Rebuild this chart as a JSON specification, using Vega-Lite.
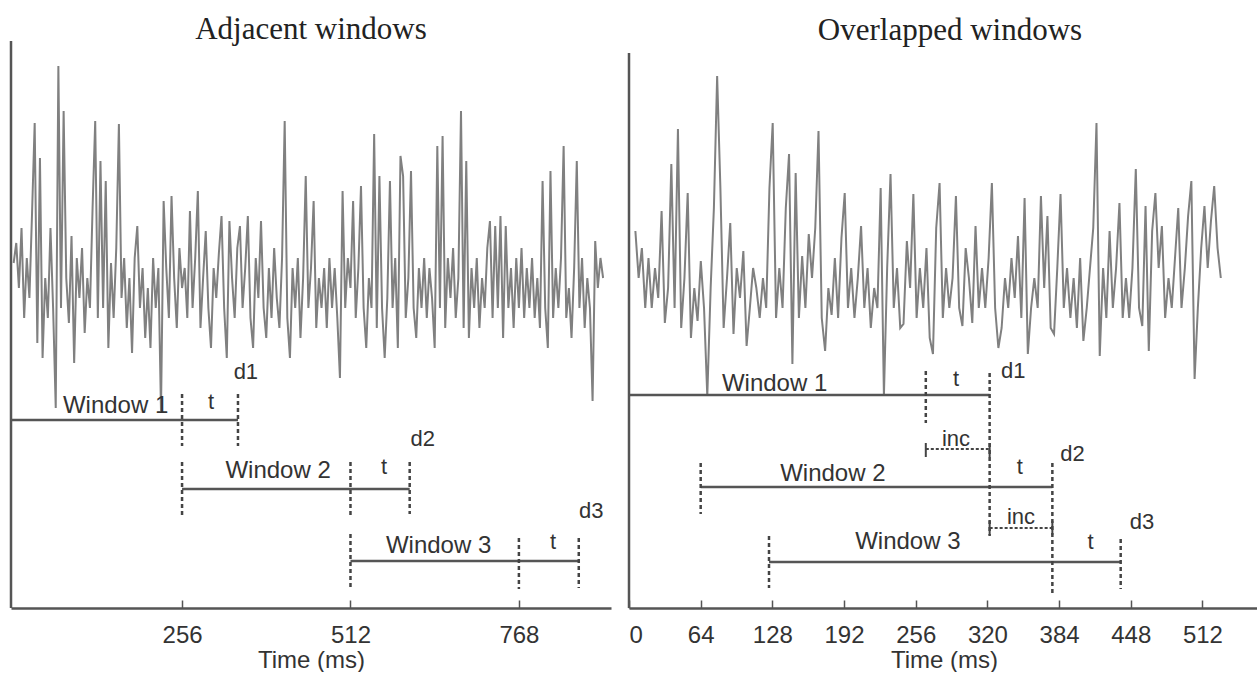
{
  "$schema": "https://vega.github.io/schema/vega-lite/v6.json",
  "background": "white",
  "padding": {"left": 9, "top": 13, "right": 0, "bottom": 0},
  "spacing": 16,
  "config": {"view": {"stroke": null}, "axis": {"grid": false}, "font": "Liberation Sans"},
  "datasets": {
    "sigA": [
      {"x":0,"y":345},{"x":4,"y":365},{"x":8,"y":320},{"x":12,"y":380},{"x":16,"y":290},{"x":20,"y":350},{"x":24,"y":310},{"x":28,"y":395},{"x":32,"y":485},{"x":36,"y":265},
      {"x":40,"y":450},{"x":44,"y":250},{"x":48,"y":330},{"x":52,"y":290},{"x":56,"y":380},{"x":60,"y":300},{"x":64,"y":200},{"x":68,"y":542},{"x":72,"y":300},{"x":76,"y":497},
      {"x":80,"y":330},{"x":84,"y":285},{"x":88,"y":372},{"x":92,"y":245},{"x":96,"y":350},{"x":100,"y":310},{"x":104,"y":360},{"x":108,"y":275},{"x":112,"y":330},{"x":116,"y":300},
      {"x":120,"y":400},{"x":124,"y":487},{"x":128,"y":290},{"x":132,"y":447},{"x":136,"y":300},{"x":140,"y":427},{"x":144,"y":260},{"x":148,"y":345},{"x":152,"y":290},{"x":156,"y":360},
      {"x":160,"y":484},{"x":164,"y":310},{"x":168,"y":350},{"x":172,"y":280},{"x":176,"y":330},{"x":180,"y":255},{"x":184,"y":350},{"x":188,"y":382},{"x":192,"y":300},{"x":196,"y":340},
      {"x":200,"y":270},{"x":204,"y":320},{"x":208,"y":260},{"x":212,"y":350},{"x":216,"y":300},{"x":220,"y":340},{"x":224,"y":197},{"x":228,"y":407},{"x":232,"y":340},{"x":236,"y":290},
      {"x":240,"y":412},{"x":244,"y":330},{"x":248,"y":280},{"x":252,"y":360},{"x":256,"y":320},{"x":260,"y":340},{"x":264,"y":290},{"x":268,"y":397},{"x":272,"y":300},{"x":276,"y":350},
      {"x":280,"y":417},{"x":284,"y":280},{"x":288,"y":330},{"x":292,"y":377},{"x":296,"y":300},{"x":300,"y":260},{"x":304,"y":340},{"x":308,"y":310},{"x":312,"y":355},{"x":316,"y":392},
      {"x":320,"y":300},{"x":324,"y":250},{"x":328,"y":387},{"x":332,"y":330},{"x":336,"y":290},{"x":340,"y":360},{"x":344,"y":382},{"x":348,"y":300},{"x":352,"y":340},{"x":356,"y":392},
      {"x":360,"y":290},{"x":364,"y":260},{"x":368,"y":350},{"x":372,"y":310},{"x":376,"y":387},{"x":380,"y":300},{"x":384,"y":270},{"x":388,"y":340},{"x":392,"y":290},{"x":396,"y":360},
      {"x":400,"y":310},{"x":404,"y":280},{"x":408,"y":350},{"x":412,"y":487},{"x":416,"y":290},{"x":420,"y":250},{"x":424,"y":340},{"x":428,"y":300},{"x":432,"y":350},{"x":436,"y":270},
      {"x":440,"y":330},{"x":444,"y":432},{"x":448,"y":300},{"x":452,"y":340},{"x":456,"y":407},{"x":460,"y":280},{"x":464,"y":330},{"x":468,"y":300},{"x":472,"y":340},{"x":476,"y":280},
      {"x":480,"y":350},{"x":484,"y":300},{"x":488,"y":340},{"x":492,"y":290},{"x":496,"y":230},{"x":500,"y":417},{"x":504,"y":300},{"x":508,"y":350},{"x":512,"y":320},{"x":516,"y":407},
      {"x":520,"y":290},{"x":524,"y":340},{"x":528,"y":422},{"x":532,"y":300},{"x":536,"y":260},{"x":540,"y":330},{"x":544,"y":300},{"x":548,"y":474},{"x":552,"y":280},{"x":556,"y":432},
      {"x":560,"y":300},{"x":564,"y":250},{"x":568,"y":310},{"x":572,"y":427},{"x":576,"y":300},{"x":580,"y":350},{"x":584,"y":260},{"x":588,"y":452},{"x":592,"y":432},{"x":596,"y":290},
      {"x":600,"y":330},{"x":604,"y":437},{"x":608,"y":300},{"x":612,"y":270},{"x":616,"y":340},{"x":620,"y":300},{"x":624,"y":350},{"x":628,"y":290},{"x":632,"y":340},{"x":636,"y":310},
      {"x":640,"y":260},{"x":644,"y":462},{"x":648,"y":300},{"x":652,"y":472},{"x":656,"y":280},{"x":660,"y":350},{"x":664,"y":310},{"x":668,"y":360},{"x":672,"y":290},{"x":676,"y":330},
      {"x":680,"y":497},{"x":684,"y":280},{"x":688,"y":447},{"x":692,"y":270},{"x":696,"y":340},{"x":700,"y":300},{"x":704,"y":350},{"x":708,"y":280},{"x":712,"y":330},{"x":716,"y":300},
      {"x":720,"y":360},{"x":724,"y":387},{"x":728,"y":290},{"x":732,"y":382},{"x":736,"y":300},{"x":740,"y":392},{"x":744,"y":270},{"x":748,"y":382},{"x":752,"y":300},{"x":756,"y":340},
      {"x":760,"y":280},{"x":764,"y":350},{"x":768,"y":300},{"x":772,"y":360},{"x":776,"y":290},{"x":780,"y":340},{"x":784,"y":300},{"x":788,"y":350},{"x":792,"y":290},{"x":796,"y":330},
      {"x":800,"y":280},{"x":804,"y":427},{"x":808,"y":300},{"x":812,"y":260},{"x":816,"y":437},{"x":820,"y":290},{"x":824,"y":340},{"x":828,"y":300},{"x":832,"y":350},{"x":836,"y":462},
      {"x":840,"y":290},{"x":844,"y":320},{"x":848,"y":270},{"x":852,"y":340},{"x":856,"y":447},{"x":860,"y":300},{"x":864,"y":350},{"x":868,"y":280},{"x":872,"y":330},{"x":876,"y":300},
      {"x":880,"y":207},{"x":884,"y":367},{"x":888,"y":320},{"x":892,"y":350},{"x":896,"y":330}
    ],
    "sigB": [
      {"x":5.7,"y":377},{"x":8.6,"y":330},{"x":11.5,"y":360},{"x":14.5,"y":300},{"x":17.4,"y":350},{"x":20.3,"y":300},{"x":23.2,"y":340},{"x":26.1,"y":310},{"x":29.1,"y":397},{"x":32.0,"y":285},
      {"x":34.9,"y":320},{"x":37.8,"y":444},{"x":40.7,"y":300},{"x":43.7,"y":479},{"x":46.6,"y":280},{"x":49.5,"y":330},{"x":52.4,"y":415},{"x":55.3,"y":270},{"x":58.3,"y":320},{"x":61.2,"y":287},
      {"x":64.1,"y":347},{"x":67.0,"y":300},{"x":69.9,"y":212},{"x":72.9,"y":320},{"x":75.8,"y":400},{"x":78.7,"y":532},{"x":81.6,"y":420},{"x":84.5,"y":280},{"x":87.5,"y":330},{"x":90.4,"y":385},
      {"x":93.3,"y":274},{"x":96.2,"y":340},{"x":99.1,"y":310},{"x":102.1,"y":357},{"x":105.0,"y":262},{"x":107.9,"y":300},{"x":110.8,"y":340},{"x":113.7,"y":320},{"x":116.7,"y":290},{"x":119.6,"y":330},
      {"x":122.5,"y":300},{"x":125.4,"y":420},{"x":128.3,"y":485},{"x":131.3,"y":290},{"x":134.2,"y":340},{"x":137.1,"y":300},{"x":140.0,"y":400},{"x":142.9,"y":454},{"x":145.9,"y":244},{"x":148.8,"y":435},
      {"x":151.7,"y":290},{"x":154.6,"y":352},{"x":157.5,"y":300},{"x":160.5,"y":374},{"x":163.4,"y":330},{"x":166.3,"y":380},{"x":169.2,"y":477},{"x":172.1,"y":290},{"x":175.1,"y":257},{"x":178.0,"y":320},
      {"x":180.9,"y":293},{"x":183.8,"y":350},{"x":186.7,"y":290},{"x":189.7,"y":370},{"x":192.6,"y":415},{"x":195.5,"y":300},{"x":198.4,"y":340},{"x":201.3,"y":290},{"x":204.3,"y":330},{"x":207.2,"y":382},
      {"x":210.1,"y":300},{"x":213.0,"y":340},{"x":215.9,"y":280},{"x":218.9,"y":320},{"x":221.8,"y":300},{"x":224.7,"y":420},{"x":227.6,"y":212},{"x":230.5,"y":340},{"x":233.5,"y":434},{"x":236.4,"y":300},
      {"x":239.3,"y":340},{"x":242.2,"y":280},{"x":245.1,"y":284},{"x":248.1,"y":367},{"x":251.0,"y":320},{"x":253.9,"y":414},{"x":256.8,"y":290},{"x":259.7,"y":340},{"x":262.7,"y":300},{"x":265.6,"y":360},
      {"x":268.5,"y":270},{"x":271.4,"y":254},{"x":274.3,"y":380},{"x":277.3,"y":425},{"x":280.2,"y":290},{"x":283.1,"y":340},{"x":286.0,"y":300},{"x":288.9,"y":330},{"x":291.9,"y":412},{"x":294.8,"y":300},
      {"x":297.7,"y":282},{"x":300.6,"y":360},{"x":303.5,"y":330},{"x":306.5,"y":285},{"x":309.4,"y":382},{"x":312.3,"y":300},{"x":315.2,"y":340},{"x":318.1,"y":300},{"x":321.1,"y":350},{"x":324.0,"y":425},
      {"x":326.9,"y":300},{"x":329.8,"y":260},{"x":332.7,"y":280},{"x":335.7,"y":330},{"x":338.6,"y":300},{"x":341.5,"y":350},{"x":344.4,"y":310},{"x":347.3,"y":372},{"x":350.3,"y":290},{"x":353.2,"y":410},
      {"x":356.1,"y":254},{"x":359.0,"y":300},{"x":361.9,"y":330},{"x":364.9,"y":300},{"x":367.8,"y":412},{"x":370.7,"y":320},{"x":373.6,"y":392},{"x":376.5,"y":280},{"x":379.5,"y":274},{"x":382.4,"y":340},
      {"x":385.3,"y":414},{"x":388.2,"y":300},{"x":391.1,"y":340},{"x":394.1,"y":290},{"x":397.0,"y":330},{"x":399.9,"y":280},{"x":402.8,"y":350},{"x":405.7,"y":267},{"x":408.7,"y":300},{"x":411.6,"y":340},
      {"x":414.5,"y":380},{"x":417.4,"y":485},{"x":420.3,"y":252},{"x":423.3,"y":340},{"x":426.2,"y":290},{"x":429.1,"y":377},{"x":432.0,"y":300},{"x":434.9,"y":340},{"x":437.9,"y":405},{"x":440.8,"y":290},
      {"x":443.7,"y":330},{"x":446.6,"y":290},{"x":449.5,"y":340},{"x":452.5,"y":439},{"x":455.4,"y":300},{"x":458.3,"y":282},{"x":461.2,"y":402},{"x":464.1,"y":257},{"x":467.1,"y":377},{"x":470.0,"y":415},
      {"x":472.9,"y":340},{"x":475.8,"y":382},{"x":478.7,"y":290},{"x":481.7,"y":330},{"x":484.6,"y":300},{"x":487.5,"y":350},{"x":490.4,"y":400},{"x":493.3,"y":300},{"x":496.3,"y":340},{"x":499.2,"y":392},
      {"x":502.1,"y":427},{"x":505.0,"y":229},{"x":507.9,"y":300},{"x":510.9,"y":360},{"x":513.8,"y":402},{"x":516.7,"y":340},{"x":519.6,"y":387},{"x":522.5,"y":422},{"x":525.5,"y":360},{"x":528.4,"y":330}
    ],
    "axA": [{"x": -4, "y": 0, "y2": 567}],
    "axB": [{"x": 0, "y": 0, "y2": 555}],
    "hA": [
      {"x": -4, "x2": 341, "y": 188},
      {"x": 256, "x2": 602, "y": 119},
      {"x": 512, "x2": 859, "y": 47}
    ],
    "vA": [
      {"x": 256, "y": 214, "y2": 162},
      {"x": 341, "y": 214, "y2": 162},
      {"x": 256, "y": 146, "y2": 92},
      {"x": 512, "y": 146, "y2": 92},
      {"x": 602, "y": 146, "y2": 94},
      {"x": 512, "y": 74, "y2": 20},
      {"x": 768, "y": 70, "y2": 19},
      {"x": 859, "y": 70, "y2": 20}
    ],
    "wA": [
      {"x": 155, "y": 195, "label": "Window 1"},
      {"x": 402, "y": 130, "label": "Window 2"},
      {"x": 646, "y": 55, "label": "Window 3"}
    ],
    "sA": [
      {"x": 300, "y": 199, "label": "t"},
      {"x": 353, "y": 229, "label": "d1"},
      {"x": 563, "y": 134, "label": "t"},
      {"x": 622, "y": 162, "label": "d2"},
      {"x": 820, "y": 59, "label": "t"},
      {"x": 878, "y": 90, "label": "d3"}
    ],
    "hB": [
      {"x": 0, "x2": 322, "y": 213},
      {"x": 64, "x2": 378, "y": 121},
      {"x": 125, "x2": 439, "y": 46}
    ],
    "vB": [
      {"x": 265, "y": 237, "y2": 185},
      {"x": 322, "y": 235, "y2": 72},
      {"x": 64, "y": 145, "y2": 94},
      {"x": 378, "y": 145, "y2": 15},
      {"x": 125, "y": 72, "y2": 20},
      {"x": 439, "y": 69, "y2": 19}
    ],
    "iB": [
      {"x": 265, "x2": 322, "y": 159},
      {"x": 322, "x2": 378, "y": 80}
    ],
    "eB": [
      {"x": 265, "y": 165, "y2": 151},
      {"x": 322, "y": 165, "y2": 151},
      {"x": 322, "y": 87, "y2": 73},
      {"x": 378, "y": 87, "y2": 73}
    ],
    "wB": [
      {"x": 130, "y": 217, "label": "Window 1"},
      {"x": 182, "y": 127, "label": "Window 2"},
      {"x": 249, "y": 59, "label": "Window 3"}
    ],
    "sB": [
      {"x": 292, "y": 222, "label": "t"},
      {"x": 343, "y": 230, "label": "d1"},
      {"x": 292, "y": 162, "label": "inc"},
      {"x": 349, "y": 134, "label": "t"},
      {"x": 396, "y": 147, "label": "d2"},
      {"x": 350, "y": 84, "label": "inc"},
      {"x": 412, "y": 59, "label": "t"},
      {"x": 458, "y": 79, "label": "d3"}
    ]
  },
  "hconcat": [
    {
      "width": 600,
      "height": 567,
      "title": {"text": "Adjacent windows", "font": "Liberation Serif", "fontSize": 31, "fontWeight": "normal", "color": "#222", "anchor": "middle", "baseline": "alphabetic", "offset": -30},
      "layer": [
        {
          "data": {"name": "sigA"},
          "mark": {"type": "line", "color": "#808080", "strokeWidth": 2},
          "encoding": {
            "x": {"field": "x", "type": "quantitative", "scale": {"domain": [-4, 908], "nice": false, "zero": false},
              "axis": {"values": [256, 512, 768], "title": "Time (ms)", "domainColor": "#555", "domainWidth": 2.5, "tickColor": "#555", "tickWidth": 1.5, "tickSize": -8, "labelPadding": 23, "labelFontSize": 24, "labelColor": "#333", "labelFont": "Liberation Sans", "labelFlush": false, "titleFont": "Liberation Sans", "titleFontSize": 24, "titleFontWeight": "normal", "titleColor": "#333", "titlePadding": 1}},
            "y": {"field": "y", "type": "quantitative", "scale": {"domain": [0, 567], "nice": false}, "axis": null}
          }
        },
        {
          "data": {"name": "axA"},
          "mark": {"type": "rule", "color": "#555", "strokeWidth": 2.5},
          "encoding": {"x": {"field": "x", "type": "quantitative"}, "y": {"field": "y", "type": "quantitative"}, "y2": {"field": "y2"}}
        },
        {
          "data": {"name": "hA"},
          "mark": {"type": "rule", "color": "#555", "strokeWidth": 2.5},
          "encoding": {"x": {"field": "x", "type": "quantitative"}, "x2": {"field": "x2"}, "y": {"field": "y", "type": "quantitative"}}
        },
        {
          "data": {"name": "vA"},
          "mark": {"type": "rule", "color": "#444", "strokeWidth": 2.5, "strokeDash": [4, 3]},
          "encoding": {"x": {"field": "x", "type": "quantitative"}, "y": {"field": "y", "type": "quantitative"}, "y2": {"field": "y2"}}
        },
        {
          "data": {"name": "wA"},
          "mark": {"type": "text", "fontSize": 24, "color": "#333", "align": "center", "baseline": "alphabetic", "font": "Liberation Sans"},
          "encoding": {"x": {"field": "x", "type": "quantitative"}, "y": {"field": "y", "type": "quantitative"}, "text": {"field": "label"}}
        },
        {
          "data": {"name": "sA"},
          "mark": {"type": "text", "fontSize": 22, "color": "#333", "align": "center", "baseline": "alphabetic", "font": "Liberation Sans"},
          "encoding": {"x": {"field": "x", "type": "quantitative"}, "y": {"field": "y", "type": "quantitative"}, "text": {"field": "label"}}
        }
      ]
    },
    {
      "width": 630,
      "height": 567,
      "title": {"text": "Overlapped windows", "font": "Liberation Serif", "fontSize": 31, "fontWeight": "normal", "color": "#222", "anchor": "middle", "baseline": "alphabetic", "offset": -30, "dx": 6},
      "layer": [
        {
          "data": {"name": "sigB"},
          "mark": {"type": "line", "color": "#808080", "strokeWidth": 2},
          "encoding": {
            "x": {"field": "x", "type": "quantitative", "scale": {"domain": [0, 562.5], "nice": false, "zero": false},
              "axis": {"values": [0, 64, 128, 192, 256, 320, 384, 448, 512], "title": "Time (ms)", "domainColor": "#555", "domainWidth": 2.5, "tickColor": "#555", "tickWidth": 1.5, "tickSize": -8, "labelPadding": 23, "labelFontSize": 24, "labelColor": "#333", "labelFont": "Liberation Sans", "labelFlush": true, "titleFont": "Liberation Sans", "titleFontSize": 24, "titleFontWeight": "normal", "titleColor": "#333", "titlePadding": 1}},
            "y": {"field": "y", "type": "quantitative", "scale": {"domain": [0, 567], "nice": false}, "axis": null}
          }
        },
        {
          "data": {"name": "axB"},
          "mark": {"type": "rule", "color": "#555", "strokeWidth": 2.5},
          "encoding": {"x": {"field": "x", "type": "quantitative"}, "y": {"field": "y", "type": "quantitative"}, "y2": {"field": "y2"}}
        },
        {
          "data": {"name": "hB"},
          "mark": {"type": "rule", "color": "#555", "strokeWidth": 2.5},
          "encoding": {"x": {"field": "x", "type": "quantitative"}, "x2": {"field": "x2"}, "y": {"field": "y", "type": "quantitative"}}
        },
        {
          "data": {"name": "vB"},
          "mark": {"type": "rule", "color": "#444", "strokeWidth": 2.5, "strokeDash": [4, 3]},
          "encoding": {"x": {"field": "x", "type": "quantitative"}, "y": {"field": "y", "type": "quantitative"}, "y2": {"field": "y2"}}
        },
        {
          "data": {"name": "iB"},
          "mark": {"type": "rule", "color": "#444", "strokeWidth": 2, "strokeDash": [3, 2]},
          "encoding": {"x": {"field": "x", "type": "quantitative"}, "x2": {"field": "x2"}, "y": {"field": "y", "type": "quantitative"}}
        },
        {
          "data": {"name": "eB"},
          "mark": {"type": "rule", "color": "#444", "strokeWidth": 2},
          "encoding": {"x": {"field": "x", "type": "quantitative"}, "y": {"field": "y", "type": "quantitative"}, "y2": {"field": "y2"}}
        },
        {
          "data": {"name": "wB"},
          "mark": {"type": "text", "fontSize": 24, "color": "#333", "align": "center", "baseline": "alphabetic", "font": "Liberation Sans"},
          "encoding": {"x": {"field": "x", "type": "quantitative"}, "y": {"field": "y", "type": "quantitative"}, "text": {"field": "label"}}
        },
        {
          "data": {"name": "sB"},
          "mark": {"type": "text", "fontSize": 22, "color": "#333", "align": "center", "baseline": "alphabetic", "font": "Liberation Sans"},
          "encoding": {"x": {"field": "x", "type": "quantitative"}, "y": {"field": "y", "type": "quantitative"}, "text": {"field": "label"}}
        }
      ]
    }
  ]
}
